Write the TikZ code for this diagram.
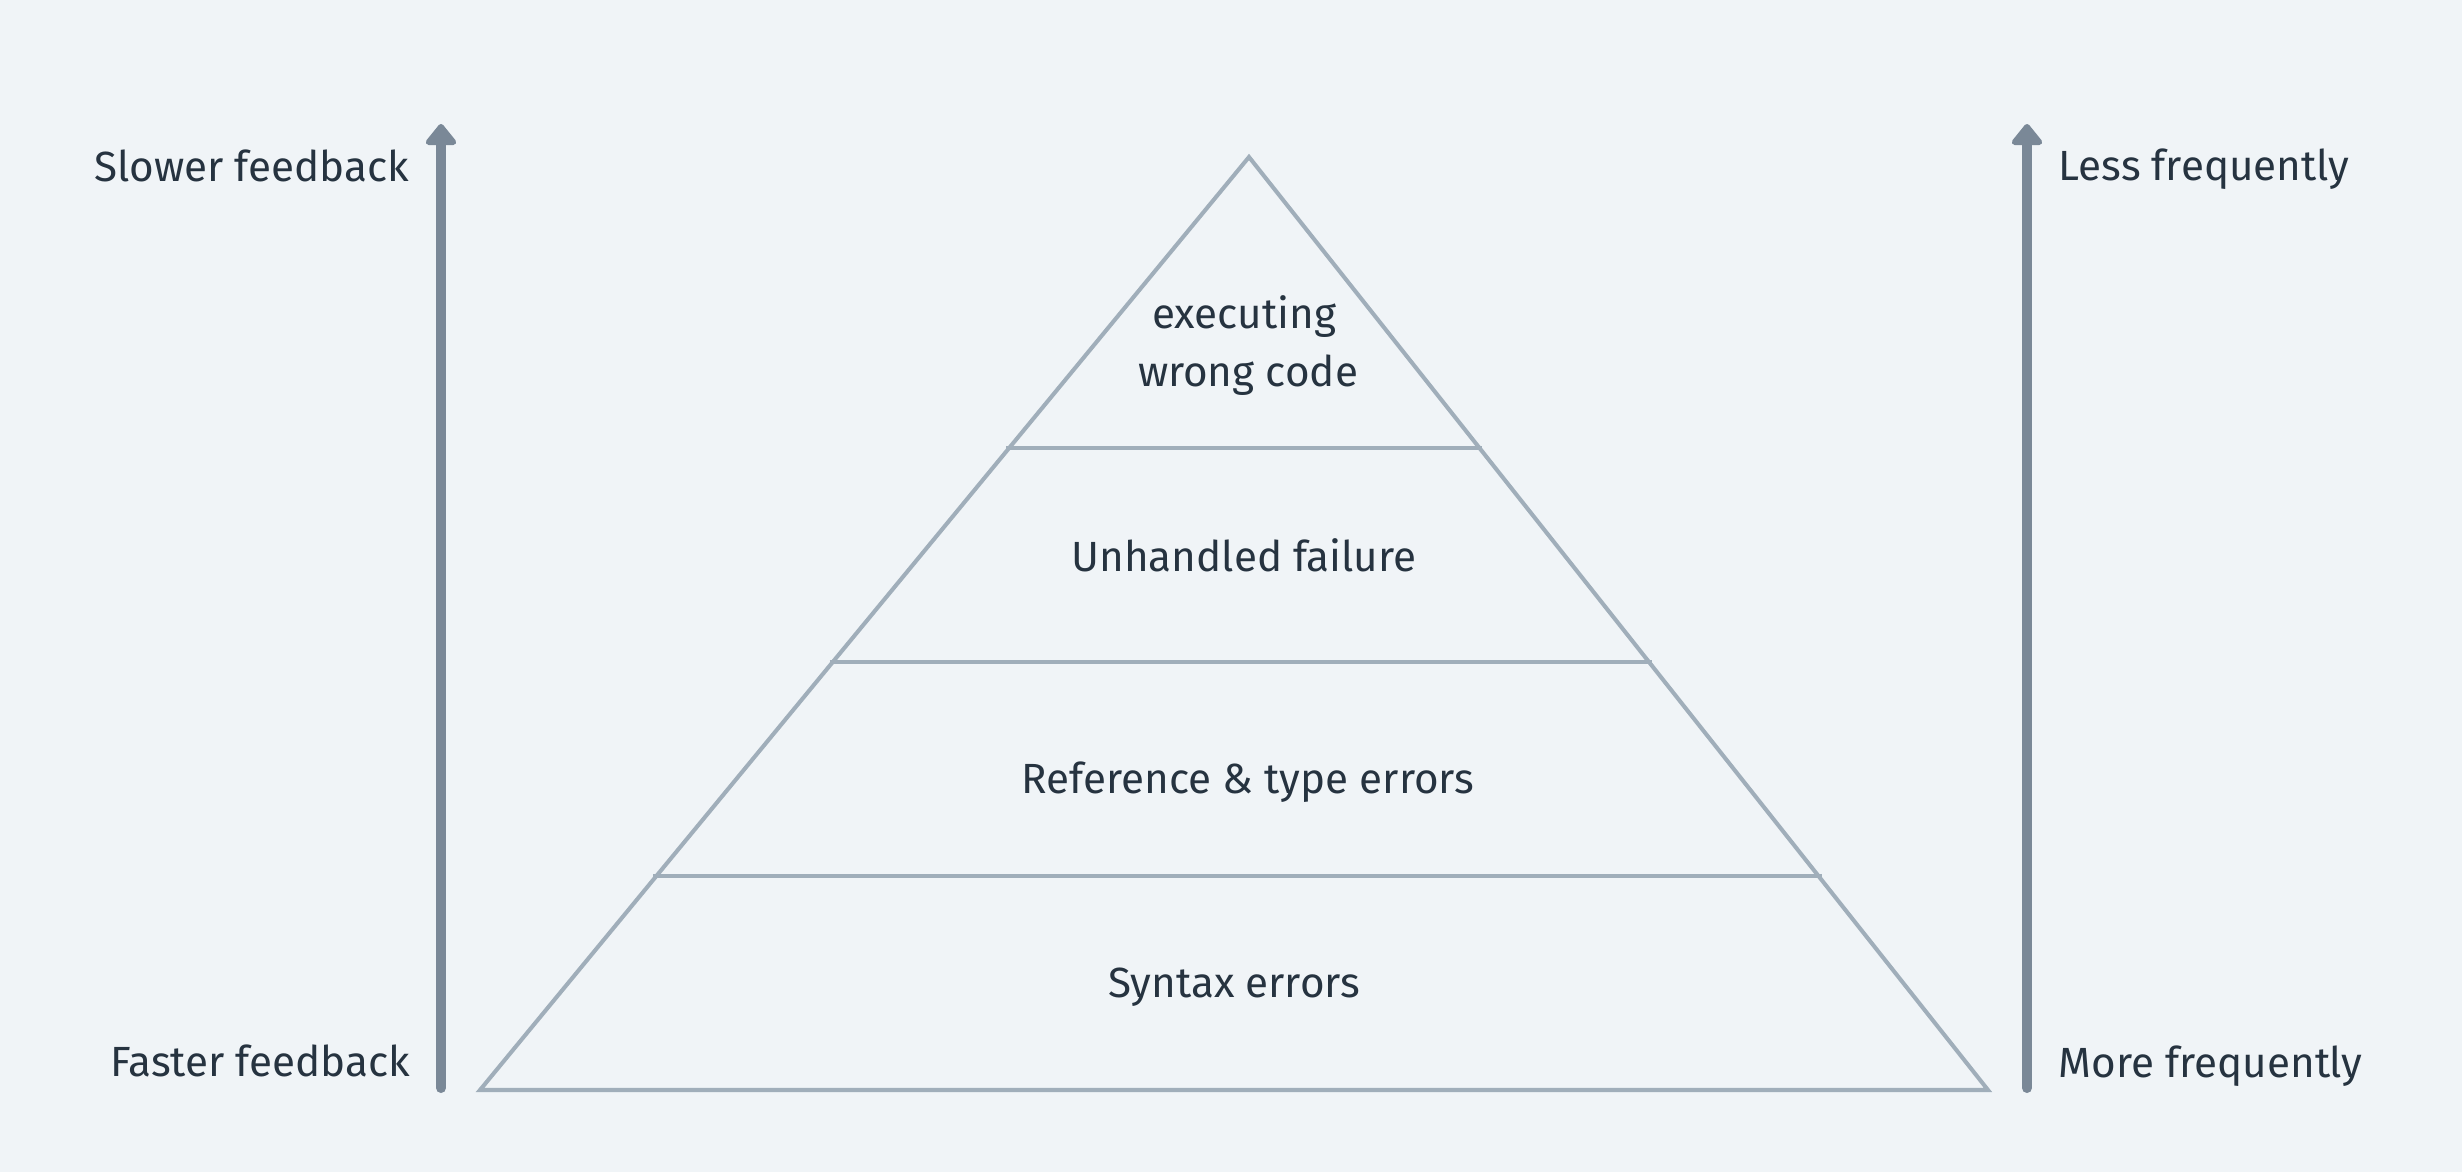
\documentclass[tikz,border=0pt]{standalone}
\usepackage{fontspec}
\setmainfont{Fira Sans}
\usetikzlibrary{arrows.meta,calc}
\definecolor{bgc}{HTML}{F0F4F7}
\definecolor{pyr}{HTML}{A0AEBA}
\definecolor{arr}{HTML}{7A8897}
\definecolor{txt}{HTML}{263340}
\tikzset{
  px/.style={x=0.01cm,y=-0.01cm},
  pyrline/.style={draw=pyr,line width=1.15pt,line cap=butt,line join=miter},
  bigarrow/.style={draw=arr,line width=2.85pt,line cap=round,-{Triangle[width=10pt,length=6.5pt,round]}},
  lbl/.style={text=txt,font=\fontsize{12}{14.4}\selectfont,inner sep=0pt},
}
\begin{document}
\begin{tikzpicture}[px]
\fill[bgc] (0,0) rectangle (2462,1172);
\useasboundingbox (0,0) rectangle (2462,1172);
% pyramid corners
\coordinate (A) at (1249,157);
\coordinate (L) at (480,1090);
\coordinate (R) at (1988,1090);
\draw[pyrline] (L) -- (A) -- (R) -- cycle;
% layer lines
\foreach \y/\n in {448/one,662/two,876/three}{
  \pgfmathsetmacro{\t}{(\y-157)/(1090-157)}
  \coordinate (\n l) at ($(A)!\t!(L)+(-3,0)$);
  \coordinate (\n r) at ($(A)!\t!(R)+(3,0)$);
  \draw[pyrline] (\n l) -- (\n r);
}
% arrows
\coordinate (la0) at (441,1088);
\coordinate (la1) at (441,124);
\coordinate (ra0) at (2027,1088);
\coordinate (ra1) at (2027,124);
\draw[bigarrow] (la0) -- (la1);
\draw[bigarrow] (ra0) -- (ra1);
% side labels
\node[lbl,anchor=east] (slow) at (410,166) {Slower feedback};
\node[lbl,anchor=east] (fast) at (411,1061) {Faster feedback};
\node[lbl,anchor=west] (less) at (2058,169) {Less frequently};
\node[lbl,anchor=west] (more) at (2058,1066) {More frequently};
% layer labels
\node[lbl] (exec1) at (1244,317) {executing};
\node[lbl] (exec2) at (1248,375) {wrong code};
\node[lbl] (unh) at (1244,555) {Unhandled failure};
\node[lbl] (ref) at (1248,782) {Reference \& type errors};
\node[lbl] (syn) at (1234,987) {Syntax errors};
\end{tikzpicture}
\end{document}
